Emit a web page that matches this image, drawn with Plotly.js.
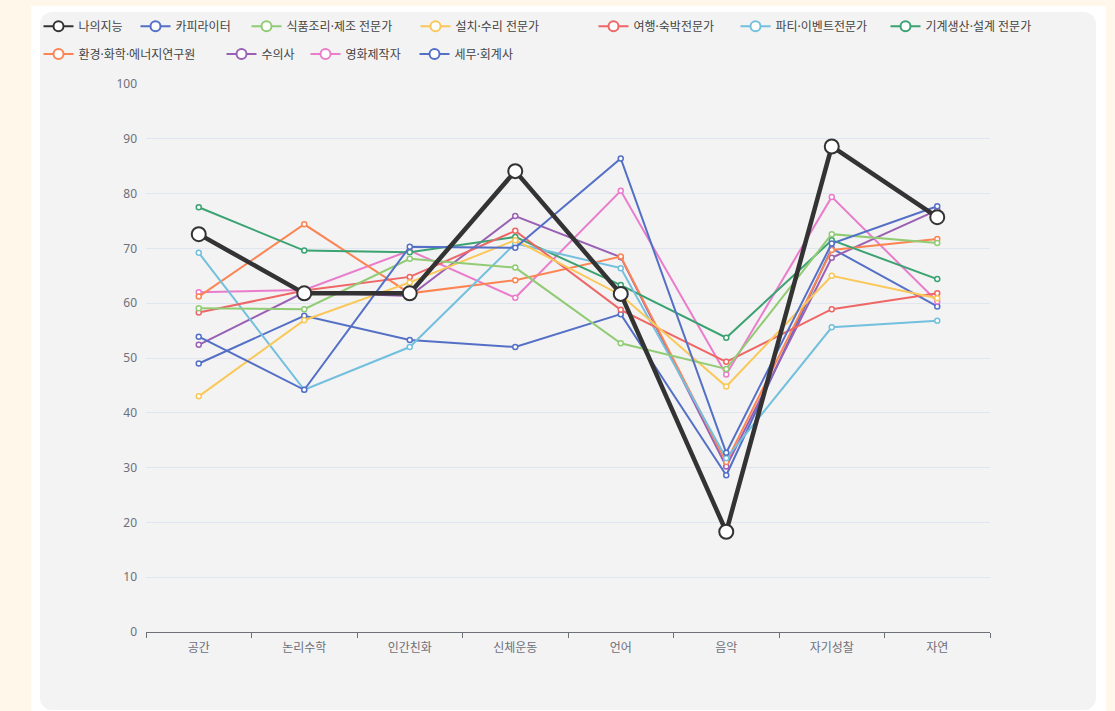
<!DOCTYPE html>
<html>
<head>
<meta charset="utf-8">
<script src="https://cdn.plot.ly/plotly-3.0.1.min.js"></script>
<style>
  html, body { margin: 0; padding: 0; width: 1115px; height: 711px; overflow: hidden; background: #fff7ea; }
  #white { position: absolute; left: 31px; top: 6px; width: 1075px; height: 720px; background: #ffffff; }
  #panel { position: absolute; left: 40px; top: 12px; width: 1056px; height: 698px; background: #f3f3f3; border-radius: 12px; }
  #chart { position: absolute; left: 0; top: 0; width: 1115px; height: 711px; }
</style>
</head>
<body>
<div id="white"></div>
<div id="panel"></div>
<div id="chart"></div>
<script>
const categories = ['공간', '논리수학', '인간친화', '신체운동', '언어', '음악', '자기성찰', '자연'];

const seriesNames = ['나의지능', '카피라이터', '식품조리·제조 전문가', '설치·수리 전문가', '여행·숙박전문가',
  '파티·이벤트전문가', '기계생산·설계 전문가', '환경·화학·에너지연구원', '수의사', '영화제작자', '세무·회계사'];

const myIntel      = [72.6, 61.8, 61.8, 84.1, 61.7, 18.3, 88.6, 75.7];
const copywriter   = [53.9, 44.2, 70.3, 70.1, 86.4, 32.7, 70.9, 77.7];
const foodChef     = [59.1, 58.9, 68.1, 66.5, 52.7, 48.0, 72.6, 71.0];
const repairTech   = [43.0, 56.9, 63.8, 71.5, 61.5, 44.8, 65.0, 60.9];
const travelHotel  = [58.3, 62.3, 64.8, 73.2, 58.8, 49.3, 58.9, 61.8];
const partyEvent   = [69.2, 44.2, 52.0, 70.9, 66.4, 31.7, 55.6, 56.8];
const machineDes   = [77.5, 69.6, 69.3, 72.1, 63.3, 53.7, 71.5, 64.4];
const envResearch  = [61.2, 74.4, 61.8, 64.2, 68.5, 31.0, 69.7, 71.7];
const vet          = [52.4, 62.0, 61.3, 75.9, 68.4, 30.2, 68.3, 77.0];
const filmMaker    = [62.0, 62.4, 69.6, 61.0, 80.5, 47.0, 79.4, 60.3];
const accountant   = [49.0, 57.7, 53.3, 52.0, 58.0, 28.6, 70.0, 59.4];

const seriesValues = [myIntel, copywriter, foodChef, repairTech, travelHotel, partyEvent,
  machineDes, envResearch, vet, filmMaker, accountant];

const colors = ['#333333', '#5470c6', '#91cc75', '#fac858', '#ee6666', '#73c0de',
  '#3ba272', '#fc8452', '#9a60b4', '#ea7ccc', '#5470c6'];

const yTicks = [0, 10, 20, 30, 40, 50, 60, 70, 80, 90, 100];

const FONT = '"Noto Sans", "Noto Sans CJK KR", sans-serif';

// legend entry placement (icon centre x in px, row index)
const legendIconX = [61, 158, 269, 438, 616, 758, 908, 61, 244, 328, 437];
const legendRow   = [0, 0, 0, 0, 0, 0, 0, 1, 1, 1, 1];
const rowCenterY  = [25, 52.7];

const W = 1115, H = 711;
const traces = [];
const layout = {
  width: W,
  height: H,
  margin: { l: 146, r: 125, t: 84, b: 79 },
  paper_bgcolor: 'rgba(0,0,0,0)',
  plot_bgcolor: 'rgba(0,0,0,0)',
  font: { family: FONT, size: 12, color: '#6e7079' },
  showlegend: true,
  xaxis: {
    type: 'category',
    categoryorder: 'array',
    categoryarray: categories,
    range: [-0.5, categories.length - 0.5],
    showgrid: false,
    zeroline: false,
    showline: true,
    linecolor: '#6e7079',
    linewidth: 1,
    ticks: 'outside',
    tickson: 'boundaries',
    ticklen: 5,
    tickcolor: '#6e7079',
    ticklabelstandoff: 5,
    tickfont: { family: FONT, size: 12, color: '#6e7079' },
    fixedrange: true
  },
  yaxis: {
    range: [0, 100],
    tickmode: 'array',
    tickvals: yTicks,
    ticktext: yTicks.map(String),
    showgrid: true,
    gridcolor: '#e0e6f1',
    gridwidth: 1,
    zeroline: false,
    showline: false,
    ticks: '',
    ticklabelstandoff: 8,
    tickfont: { family: FONT, size: 12, color: '#6e7079' },
    fixedrange: true
  }
};

// data traces: others first, main series on top
for (let i = seriesNames.length - 1; i >= 0; i--) {
  const main = i === 0;
  traces.push({
    type: 'scatter',
    mode: 'lines+markers',
    name: seriesNames[i],
    legendgroup: 'g' + i,
    showlegend: false,
    x: categories,
    y: seriesValues[i],
    line: { color: colors[i], width: main ? 4.5 : 2 },
    marker: {
      symbol: 'circle',
      size: main ? 14 : 5,
      color: '#ffffff',
      line: { color: colors[i], width: main ? 2 : 1.5 }
    },
    hoverinfo: 'x+y+name'
  });
}

// legend entries, one legend per entry so positions follow the reference flow
for (let i = 0; i < seriesNames.length; i++) {
  const key = i === 0 ? 'legend' : 'legend' + (i + 1);
  traces.push({
    type: 'scatter',
    mode: 'lines+markers',
    name: seriesNames[i],
    legendgroup: 'g' + i,
    legend: key,
    showlegend: true,
    x: [null],
    y: [null],
    line: { color: colors[i], width: 2 },
    marker: { symbol: 'circle', size: 10, color: '#ffffff', line: { color: colors[i], width: 2 } },
    hoverinfo: 'skip'
  });
  layout[key] = {
    orientation: 'h',
    xref: 'container', yref: 'container',
    xanchor: 'left', yanchor: 'top',
    x: (legendIconX[i] - 22.5) / W,
    y: 1 - (rowCenterY[legendRow[i]] - 13.3) / H,
    font: { family: FONT, size: 12, color: '#444444' },
    bgcolor: 'rgba(0,0,0,0)',
    itemwidth: 30
  };
}

Plotly.newPlot('chart', traces, layout, { displayModeBar: false, responsive: false });
</script>
</body>
</html>
